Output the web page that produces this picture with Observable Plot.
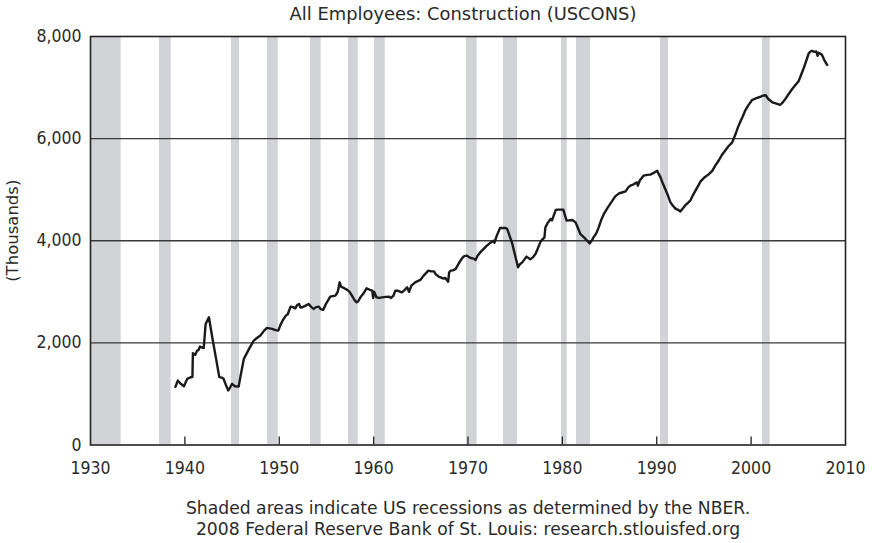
<!DOCTYPE html>
<html>
<head>
<meta charset="utf-8">
<script src="https://cdn.jsdelivr.net/npm/d3@7"></script>
<script src="https://cdn.jsdelivr.net/npm/@observablehq/plot@0.6"></script>
<style>
  html, body { margin: 0; padding: 0; background: #fff; }
  #chart { width: 872px; height: 543px; }
</style>
</head>
<body>
<div id="chart"></div>
<script>
const titleText = "All Employees: Construction (USCONS)";
const yLabelText = "(Thousands)";
const footer1 = "Shaded areas indicate US recessions as determined by the NBER.";
const footer2 = "2008 Federal Reserve Bank of St. Louis: research.stlouisfed.org";

const xTicks = [1930, 1940, 1950, 1960, 1970, 1980, 1990, 2000, 2010];
const yTicks = [0, 2000, 4000, 6000, 8000];

const recStart = [1930.0, 1937.31, 1944.94, 1948.75, 1953.31, 1957.34, 1960.09, 1969.84, 1973.76, 1979.91, 1981.50, 1990.40, 2001.21];
const recEnd   = [1933.25, 1938.55, 1945.79, 1949.89, 1954.44, 1958.37, 1961.23, 1970.97, 1975.24, 1980.51, 1982.98, 1991.25, 2002.02];

const years = [
  1939.0, 1939.25, 1939.5, 1939.9, 1940.25, 1940.6, 1940.8, 1940.85, 1941.1, 1941.3, 1941.45, 1941.6, 1941.8, 1942.0,
  1942.2, 1942.55, 1942.9, 1943.4, 1943.65, 1943.9, 1944.1, 1944.4, 1944.6, 1944.8, 1945.0, 1945.3, 1945.7, 1945.9,
  1946.25, 1946.8, 1947.3, 1947.6, 1948.0, 1948.4, 1948.7, 1949.25, 1949.6, 1949.9, 1950.1, 1950.4, 1950.7, 1950.9,
  1951.2, 1951.45, 1951.7, 1951.9, 1952.1, 1952.25, 1952.4, 1952.7, 1953.1, 1953.4, 1953.65, 1953.9, 1954.2, 1954.4,
  1954.65, 1955.0, 1955.4, 1955.95, 1956.2, 1956.4, 1956.55, 1956.7, 1957.2, 1957.45, 1957.7, 1958.0, 1958.2, 1958.35,
  1958.6, 1958.9, 1959.25, 1959.6, 1959.85, 1959.95, 1960.05, 1960.3, 1960.6, 1960.9, 1961.3, 1961.6, 1961.85, 1962.1,
  1962.3, 1962.6, 1962.85, 1963.0, 1963.3, 1963.55, 1963.75, 1964.0, 1964.4, 1964.95, 1965.3, 1965.8, 1966.1, 1966.4,
  1966.55, 1966.9, 1967.1, 1967.4, 1967.6, 1967.9, 1968.0, 1968.15, 1968.4, 1968.7, 1969.0, 1969.4, 1969.6, 1969.9,
  1970.1, 1970.3, 1970.6, 1970.8, 1971.0, 1971.3, 1971.6, 1972.0, 1972.3, 1972.7, 1972.8, 1973.05, 1973.4, 1973.7,
  1974.0, 1974.15, 1974.4, 1974.65, 1975.0, 1975.3, 1975.5, 1975.75, 1976.0, 1976.2, 1976.6, 1976.9, 1977.15, 1977.4,
  1977.7, 1978.1, 1978.2, 1978.45, 1978.75, 1978.9, 1979.3, 1979.5, 1980.1, 1980.3, 1980.45, 1980.7, 1981.05, 1981.4,
  1981.65, 1981.9, 1982.2, 1982.45, 1982.9, 1983.1, 1983.3, 1983.6, 1983.85, 1984.1, 1984.4, 1984.8, 1985.3, 1985.6,
  1986.0, 1986.4, 1986.7, 1987.0, 1987.2, 1987.5, 1987.9, 1988.0, 1988.2, 1988.6, 1989.0, 1989.3, 1989.7, 1990.05,
  1990.15, 1990.4, 1990.65, 1990.9, 1991.2, 1991.45, 1991.7, 1991.95, 1992.2, 1992.5, 1992.8, 1993.05, 1993.3, 1993.55,
  1993.8, 1994.1, 1994.4, 1994.65, 1994.9, 1995.15, 1995.5, 1995.9, 1996.2, 1996.6, 1996.9, 1997.3, 1997.6, 1998.0,
  1998.35, 1998.6, 1998.9, 1999.1, 1999.4, 1999.7, 2000.1, 2000.5, 2001.0, 2001.2, 2001.55, 2001.8, 2002.05, 2002.25,
  2002.6, 2003.0, 2003.1, 2003.4, 2003.7, 2004.0, 2004.35, 2004.7, 2005.05, 2005.3, 2005.6, 2005.85, 2006.1, 2006.3,
  2006.45, 2006.7, 2006.9, 2007.05, 2007.15, 2007.3, 2007.5, 2007.75, 2008.05
];
const values = [
  1140, 1262, 1210, 1151, 1295, 1327, 1330, 1800, 1765, 1849, 1860, 1928, 1910, 1902,
  2371, 2501, 2110, 1589, 1330, 1320, 1296, 1150, 1067, 1130, 1198, 1150, 1145, 1350,
  1687, 1883, 2045, 2090, 2143, 2240, 2293, 2274, 2250, 2241, 2339, 2450, 2534, 2560,
  2710, 2700, 2677, 2740, 2763, 2690, 2697, 2720, 2763, 2700, 2665, 2700, 2710, 2660,
  2646, 2780, 2906, 2926, 3000, 3186, 3100, 3088, 3037, 3000, 2926, 2830, 2795, 2810,
  2892, 2960, 3069, 3040, 3024, 2880, 3000, 2892, 2880, 2892, 2900, 2906, 2880, 2926,
  3024, 3020, 3000, 2990, 3040, 3088, 3000, 3121, 3186, 3233, 3317, 3415, 3400, 3401,
  3350, 3298, 3284, 3260, 3271, 3199, 3380, 3415, 3420, 3448, 3550, 3663, 3700, 3708,
  3680, 3663, 3650, 3624, 3700, 3773, 3830, 3904, 3950, 4002, 3960, 4100, 4251, 4250,
  4250, 4231, 4100, 3969, 3708, 3480, 3540, 3577, 3640, 3689, 3636, 3680, 3742, 3850,
  3988, 4067, 4262, 4350, 4427, 4400, 4603, 4610, 4609, 4480, 4394, 4400, 4407, 4360,
  4250, 4133, 4080, 4035, 3949, 4000, 4067, 4150, 4262, 4400, 4525, 4650, 4785, 4870,
  4928, 4950, 4967, 5050, 5078, 5100, 5143, 5080, 5180, 5274, 5290, 5294, 5330, 5372,
  5330, 5241, 5120, 5014, 4880, 4752, 4690, 4634, 4610, 4575, 4640, 4701, 4740, 4785,
  4880, 4981, 5080, 5163, 5210, 5255, 5300, 5372, 5470, 5581, 5680, 5777, 5850, 5926,
  6090, 6220, 6350, 6430, 6560, 6650, 6756, 6790, 6820, 6840, 6850, 6780, 6742, 6709,
  6690, 6664, 6664, 6720, 6795, 6880, 6971, 7050, 7130, 7250, 7394, 7530, 7668, 7710,
  7720, 7700, 7707, 7623, 7680, 7668, 7642, 7538, 7446
];

const series = years.map((y, i) => ({year: y, value: values[i]}));
const recessions = recStart.map((s, i) => ({start: s, end: recEnd[i]}));

const W = 872, H = 543;
const mTop = 36, mBottom = 98.5, mLeft = 90, mRight = 27;
const frameH = H - mTop - mBottom;
const TEXT_FONT = "'DejaVu Sans', 'Liberation Sans', sans-serif";
const TICK_FONT = "'DejaVu Sans Condensed', 'Liberation Sans', sans-serif";
const textColor = "#2a2a2a";

const chart = Plot.plot({
  width: W,
  height: H,
  marginTop: mTop,
  marginBottom: mBottom,
  marginLeft: mLeft,
  marginRight: mRight,
  style: {fontFamily: TICK_FONT, fontSize: "17.5px", color: textColor, background: "#fff"},
  x: {domain: [1930, 2010]},
  y: {domain: [0, 8000]},
  marks: [
    Plot.rect(recessions, {x1: "start", x2: "end", fill: "#d2d3d6"}),
    Plot.gridY(yTicks.slice(1, -1), {stroke: "#3a3a3a", strokeOpacity: 1, strokeWidth: 1.3}),
    Plot.ruleX(xTicks.slice(1, -1), {stroke: "#222", strokeWidth: 1.3, insetTop: frameH - 8}),
    Plot.line(series, {x: "year", y: "value", stroke: "#1a1a1a", strokeWidth: 2.4, strokeLinejoin: "round", strokeLinecap: "round"}),
    Plot.frame({stroke: "#222", strokeWidth: 1.6}),
    Plot.axisX(xTicks, {tickSize: 0, tickPadding: 17, tickFormat: d => String(d), label: null, fontSize: 17.5, fontFamily: TICK_FONT, fill: textColor}),
    Plot.axisY(yTicks, {tickSize: 0, tickPadding: 9, tickFormat: d3.format(","), label: null, fontSize: 17.5, fontFamily: TICK_FONT, fill: textColor}),
    Plot.text([titleText], {frameAnchor: "top", dy: -22, dx: -5, fontSize: 17.9, fontFamily: TEXT_FONT, fill: textColor, lineAnchor: "middle"}),
    Plot.text([yLabelText], {frameAnchor: "left", textAnchor: "middle", rotate: -90, dx: -77.5, dy: -10, fontSize: 16.5, fontFamily: TEXT_FONT, fill: textColor, lineAnchor: "middle"}),
    Plot.text([footer1], {frameAnchor: "bottom", dy: 63.5, fontSize: 17.2, fontFamily: TEXT_FONT, fill: textColor, lineAnchor: "middle"}),
    Plot.text([footer2], {frameAnchor: "bottom", dy: 84, fontSize: 17.2, fontFamily: TEXT_FONT, fill: textColor, lineAnchor: "middle"})
  ]
});
document.getElementById("chart").appendChild(chart);
</script>
</body>
</html>
